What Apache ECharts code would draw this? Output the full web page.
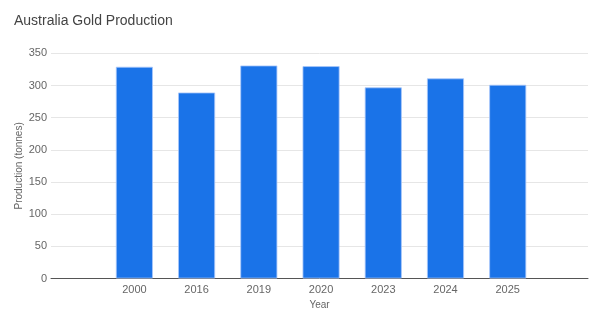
<!DOCTYPE html>
<html>
<head>
<meta charset="utf-8">
<script src="https://cdn.jsdelivr.net/npm/echarts@6/dist/echarts.min.js"></script>
<style>
html,body{margin:0;padding:0;background:#fff;}
#c{width:602px;height:323px;}
</style>
</head>
<body>
<div id="c"></div>
<script>
const categories = ['2000', '2016', '2019', '2020', '2023', '2024', '2025'];
const production = [329, 289, 331, 330, 297, 311, 301];
const yTicks = [0, 50, 100, 150, 200, 250, 300, 350];

const chart = echarts.init(document.getElementById('c'), null, {renderer: 'canvas'});
const idx = categories.map((_, i) => i);
chart.setOption({
  animation: false,
  backgroundColor: '#fff',
  title: {
    text: 'Australia Gold Production',
    left: 9, top: 9,
    textStyle: {fontFamily: 'Liberation Sans, Arial, sans-serif', fontSize: 14, fontWeight: 'normal', color: '#444'}
  },
  grid: {left: 51, right: 14, top: 53.3, bottom: 44.5, containLabel: false},
  xAxis: {
    type: 'value',
    min: -1.34, max: 7.29,
    name: 'Year', nameLocation: 'middle', nameGap: 22,
    nameTextStyle: {fontFamily: 'Liberation Sans, Arial, sans-serif', fontSize: 10, color: '#666'},
    axisLine: {show: true, onZero: false, lineStyle: {color: '#555', width: 1}},
    axisTick: {show: false},
    splitLine: {show: false},
    axisLabel: {
      customValues: idx,
      formatter: v => categories[Math.round(v)] ?? '',
      fontFamily: 'Liberation Sans, Arial, sans-serif', fontSize: 11, color: '#666', margin: 6
    }
  },
  yAxis: {
    type: 'value', min: yTicks[0], max: yTicks[yTicks.length - 1], interval: 50,
    name: 'Production (tonnes)', nameLocation: 'middle', nameGap: 27, nameMoveOverlap: false,
    nameTextStyle: {fontFamily: 'Liberation Sans, Arial, sans-serif', fontSize: 10, color: '#666'},
    axisLine: {show: false},
    axisTick: {show: false},
    splitLine: {lineStyle: {color: '#e6e6e6', width: 1}},
    axisLabel: {fontFamily: 'Liberation Sans, Arial, sans-serif', fontSize: 11, color: '#666', margin: 4}
  },
  series: [{
    type: 'bar',
    data: production.map((v, i) => [idx[i], v]),
    barWidth: 37,
    itemStyle: {color: '#1a73e8', borderColor: '#a8c7fa', borderWidth: 0.8}
  }]
});
</script>
</body>
</html>
